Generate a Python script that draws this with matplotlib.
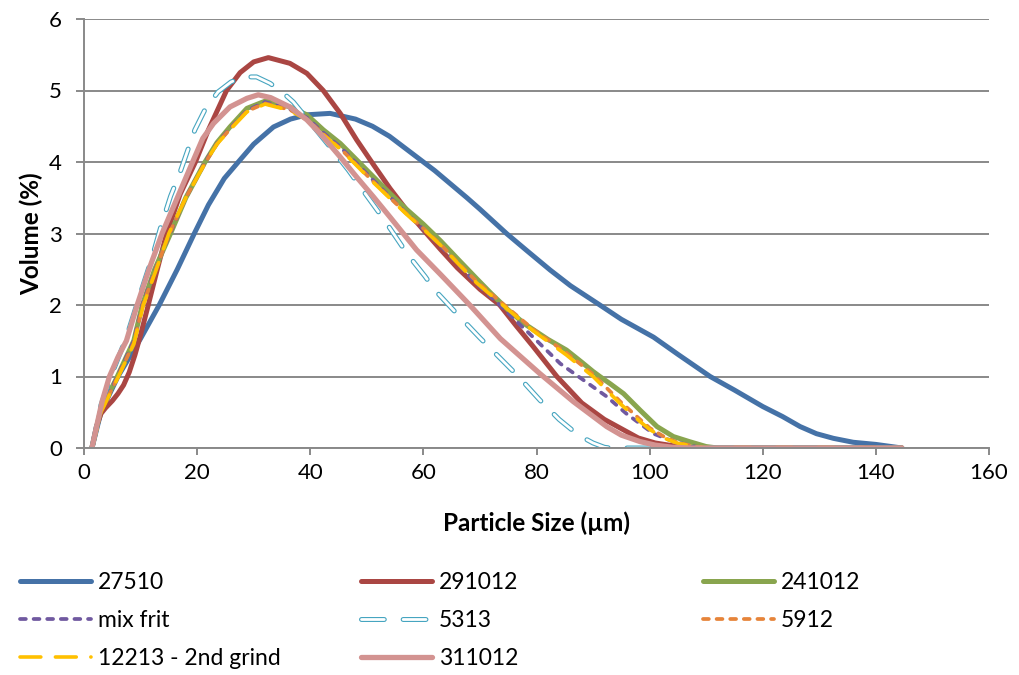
import matplotlib
matplotlib.use('Agg')
import matplotlib.pyplot as plt

plt.rcParams['font.family'] = ['Lato', 'DejaVu Sans']
plt.rcParams['lines.scale_dashes'] = False

# particle size distributions
x_27510 = [1.4, 3, 6, 10, 13.3, 16.5, 19.5, 22, 24.8, 27.6, 30, 33.5, 36.5, 39.4, 43.5, 48, 51,
           54, 57, 60, 62, 65, 67.7, 70, 74.7, 78.3, 82.4, 86, 91.2, 95, 100.7, 105, 110.7, 115,
           120, 123.5, 126.6, 129.5, 132.5, 136, 140, 144.6]
y_27510 = [0, 0.5, 1.0, 1.53, 2.0, 2.5, 3.0, 3.4, 3.77, 4.03, 4.25, 4.49, 4.6, 4.66, 4.68, 4.6,
           4.5, 4.36, 4.18, 4.0, 3.88, 3.68, 3.5, 3.34, 3.0, 2.76, 2.49, 2.27, 2.0, 1.8, 1.55,
           1.31, 1.0, 0.81, 0.58, 0.44, 0.3, 0.2, 0.135, 0.08, 0.05, 0]

x_291012 = [1.4, 2.2, 3.0, 3.8, 5, 6, 7, 8, 9, 10, 11.2, 12.8, 14.6, 17, 19.7, 22, 25.2,
            27.6, 30, 32.6, 36.4, 39.4, 42.3, 45.3, 48.2, 51.2, 54.1, 57.6, 60, 63, 66, 70,
            73.5, 76.5, 79.4, 83.6, 88, 92, 95, 98, 101, 105, 110, 144.6]
y_291012 = [0, 0.3, 0.48, 0.56, 0.66, 0.76, 0.88, 1.06, 1.3, 1.58, 1.95, 2.45, 3.0, 3.55, 4.0,
            4.45, 5.0, 5.25, 5.4, 5.46, 5.38, 5.24, 5.0, 4.68, 4.31, 3.96, 3.63, 3.27, 3.05,
            2.78, 2.52, 2.22, 2.0, 1.7, 1.42, 1.0, 0.63, 0.4, 0.27, 0.14, 0.07, 0.02, 0, 0]

x_241012 = [1.4, 3, 5.6, 8.8, 10.3, 12.5, 15.3, 18, 21.4, 23.5, 25.8, 28.8, 32.3, 36.4, 39.4,
            42.3, 45.3, 48.2, 51.2, 54.1, 57, 60, 63, 66, 69.4, 72, 75, 78, 82, 85.3, 88, 90,
            91.2, 93, 95.4, 98.3, 101.3, 104.2, 107, 110, 112, 144.6]
y_241012 = [0, 0.55, 0.95, 1.5, 2.0, 2.5, 3.0, 3.5, 4.0, 4.27, 4.49, 4.75, 4.86, 4.77, 4.66,
            4.45, 4.26, 4.03, 3.79, 3.56, 3.34, 3.13, 2.9, 2.65, 2.37, 2.16, 1.93, 1.73, 1.52,
            1.37, 1.2, 1.07, 1.0, 0.9, 0.76, 0.53, 0.3, 0.16, 0.09, 0.02, 0, 0]

x_mixfrit = [1.4, 3, 5.6, 8.8, 10.3, 12.6, 15.2, 18, 21.4, 23.5, 25.8, 28.8, 32, 36.4, 39.4,
             42.3, 45.3, 48.2, 51.2, 54.1, 57, 60, 63, 66, 69.4, 73.5, 76.5, 79.4, 84.2, 88.3,
             92.4, 95.9, 100.7, 104.2, 108, 110, 144.6]
y_mixfrit = [0, 0.55, 0.95, 1.5, 2.0, 2.5, 3.0, 3.5, 4.0, 4.26, 4.47, 4.72, 4.84, 4.74, 4.62,
             4.41, 4.21, 3.98, 3.74, 3.51, 3.28, 3.06, 2.83, 2.58, 2.3, 2.0, 1.77, 1.55, 1.18,
             0.95, 0.72, 0.48, 0.2, 0.09, 0.02, 0, 0]

x_5313 = [1.4, 3, 5, 7.5, 9.5, 12.1, 13.6, 15.3, 17, 19.6, 21.5, 23.7, 26, 28.2, 30.5, 32.9, 35,
          37, 40, 43.5, 46.7, 49.7, 53, 57.1, 60.3, 62, 65.3, 70, 76.8, 80.6, 84, 87.4, 90, 92,
          93, 144.6]
y_5313 = [0, 0.6, 1.05, 1.55, 2.05, 2.68, 3.1, 3.52, 3.86, 4.45, 4.75, 4.98, 5.12, 5.19, 5.19,
          5.1, 4.98, 4.84, 4.55, 4.21, 3.89, 3.56, 3.2, 2.72, 2.4, 2.21, 1.93, 1.54, 1.0, 0.67,
          0.4, 0.18, 0.07, 0.01, 0, 0]

x_5912 = [1.4, 3, 5.6, 8.8, 10.4, 12.7, 15.1, 18, 21.5, 23.5, 25.8, 28.8, 32, 36.4, 39.4, 42.3,
          45.3, 48.2, 51.2, 54.1, 57, 60, 63, 66, 69.4, 74, 79.4, 85.3, 90, 94.8, 98.3, 100,
          102.5, 104.8, 108, 110, 144.6]
y_5912 = [0, 0.52, 0.93, 1.47, 2.0, 2.5, 3.0, 3.5, 4.0, 4.25, 4.46, 4.71, 4.82, 4.73, 4.6, 4.39,
          4.19, 3.96, 3.72, 3.5, 3.28, 3.07, 2.85, 2.6, 2.33, 2.02, 1.66, 1.33, 1.03, 0.65, 0.4,
          0.28, 0.16, 0.08, 0.02, 0, 0]

x_12213 = [1.4, 3, 5.6, 8.8, 10.5, 12.8, 15, 18, 21.5, 23.5, 25.8, 28.8, 32, 36.4, 39.4, 42.3,
           45.3, 48.2, 51.2, 54.1, 57, 60, 63, 66, 69.4, 74, 79.4, 85.3, 90, 94.8, 98.3, 100,
           102.5, 104.8, 108, 110, 144.6]
y_12213 = [0, 0.5, 0.92, 1.45, 2.0, 2.5, 3.0, 3.5, 4.0, 4.25, 4.45, 4.7, 4.81, 4.72, 4.59, 4.38,
           4.18, 3.95, 3.71, 3.49, 3.27, 3.06, 2.84, 2.59, 2.31, 2.0, 1.64, 1.3, 1.0, 0.62,
           0.37, 0.26, 0.14, 0.07, 0.02, 0, 0]

x_311012 = [1.4, 2.5, 3.2, 4.5, 6, 7.5, 9.4, 11.5, 13.8, 16.5, 19.2, 21, 22.9, 25.8, 28.8, 30.8,
            33, 36.4, 39.4, 42.3, 45.3, 48.2, 51.2, 54.1, 58.8, 63, 68.2, 73.6, 80.6, 86.5,
            92.4, 95, 98.3, 101, 104, 107, 144.6]
y_311012 = [0, 0.4, 0.65, 1.0, 1.27, 1.5, 2.0, 2.5, 3.0, 3.5, 4.0, 4.33, 4.54, 4.77, 4.89,
            4.94, 4.9, 4.77, 4.59, 4.35, 4.07, 3.79, 3.51, 3.23, 2.77, 2.43, 2.0, 1.53, 1.04,
            0.65, 0.3, 0.18, 0.09, 0.04, 0.01, 0, 0]

x_ticks = [0, 20, 40, 60, 80, 100, 120, 140, 160]
y_ticks = [0, 1, 2, 3, 4, 5, 6]

grid_col = '#898989'

fig = plt.figure(figsize=(10.2, 6.75), dpi=100)
ax = fig.add_axes([84 / 1020, 1 - 448 / 675, 905 / 1020, 429 / 675])

solid = dict(solid_capstyle='round', solid_joinstyle='round')
h_27510, = ax.plot(x_27510, y_27510, color='#4572A7', lw=3.6, label='27510', **solid)
h_291012, = ax.plot(x_291012, y_291012, color='#AA4643', lw=3.6, label='291012', **solid)
h_241012, = ax.plot(x_241012, y_241012, color='#89A54E', lw=3.6, label='241012', **solid)
h_mix, = ax.plot(x_mixfrit, y_mixfrit, color='#7059A0', lw=2.7, dashes=(4.2, 5.6),
                 dash_capstyle='round', label='mix frit')
h_5313a, = ax.plot(x_5313, y_5313, color='#46A5C0', lw=3.6, dashes=(16.4, 13.6),
                   dash_capstyle='round')
h_5313b, = ax.plot(x_5313, y_5313, color='white', lw=2.0, dashes=(16.4, 13.6),
                   dash_capstyle='round')
h_5912, = ax.plot(x_5912, y_5912, color='#E6843A', lw=2.7, dashes=(4.2, 5.6),
                  dash_capstyle='round', label='5912')
h_12213, = ax.plot(x_12213, y_12213, color='#FFC000', lw=2.6, dashes=(15, 10.5),
                   dash_capstyle='round', label='12213 - 2nd grind')
h_311012, = ax.plot(x_311012, y_311012, color='#D39391', lw=3.8, label='311012', **solid)

ax.set_xlim(0, 160)
ax.set_ylim(0, 6)
ax.set_xticks(x_ticks)
ax.set_yticks(y_ticks)
ax.tick_params(axis='both', labelsize=16, color=grid_col, width=1.4)
ax.tick_params(axis='x', direction='out', length=5, pad=6)
ax.tick_params(axis='y', direction='out', length=6, pad=10)
ax.yaxis.grid(True, color=grid_col, lw=1.4)
ax.set_axisbelow(True)
for side in ['top', 'right']:
    ax.spines[side].set_visible(False)
for side in ['left', 'bottom']:
    ax.spines[side].set_color(grid_col)
    ax.spines[side].set_linewidth(1.4)

ax.set_xlabel('Particle Size (µm)', fontsize=17.5, fontweight='bold', labelpad=20)
ax.set_ylabel('Volume (%)', fontsize=17.5, fontweight='bold', labelpad=4)

# legend: three columns of equal width, filled row by row
columns = [
    ([h_27510, h_mix, h_12213], ['27510', 'mix frit', '12213 - 2nd grind'], 20),
    ([h_291012, (h_5313a, h_5313b), h_311012], ['291012', '5313', '311012'], 361),
    ([h_241012, h_5912], ['241012', '5912'], 703),
]
for handles, labels, xpix in columns:
    fig.legend(handles, labels, loc='upper left',
               bbox_to_anchor=(xpix / 1020, 1 - 572 / 675), frameon=False,
               fontsize=16.5, handlelength=3.1, handletextpad=0.3,
               labelspacing=0.74, borderpad=0, borderaxespad=0)

fig.savefig('out.png', dpi=100)
